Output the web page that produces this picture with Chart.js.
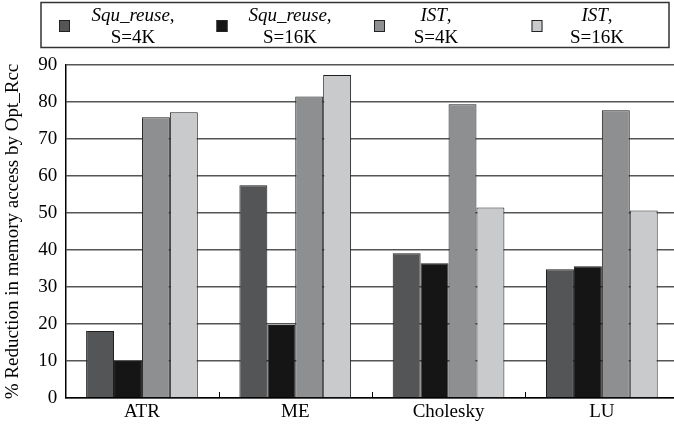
<!DOCTYPE html>
<html>
<head>
<meta charset="utf-8">
<script src="https://cdn.jsdelivr.net/npm/chart.js@4/dist/chart.umd.min.js"></script>
<style>
  html, body { margin: 0; padding: 0; background: #fff; overflow: hidden; }
  #wrap { width: 680px; height: 430px; position: relative; }
</style>
</head>
<body>
<div id="wrap"><canvas id="c"></canvas></div>
<script>
// Benchmarks on the x axis
const categories = ['ATR', 'ME', 'Cholesky', 'LU'];

// Series names (italic part) and buffer sizes (second legend line)
const seriesNames = ['Squ_reuse', 'Squ_reuse', 'IST', 'IST'];
const seriesSizes = ['S=4K', 'S=16K', 'S=4K', 'S=16K'];

// % reduction in memory access by Opt_Rcc
const squReuse4K  = [18.1, 57.5, 39.1, 34.8];
const squReuse16K = [10.0, 19.7, 36.4, 35.6];
const ist4K       = [75.9, 81.5, 79.4, 77.8];
const ist16K      = [77.2, 87.3, 51.5, 50.7];

// Y axis tick values
const yTicks = [0, 10, 20, 30, 40, 50, 60, 70, 80, 90];

const seriesValues = [squReuse4K, squReuse16K, ist4K, ist16K];
const fills = ['#545556', '#151515', '#8e8f90', '#c9cacb'];

const FONT = '"Liberation Serif", "Times New Roman", serif';

// Boxed two-line legend across the top
const topLegend = {
  id: 'topLegend',
  afterDraw(chart) {
    const ctx = chart.ctx;
    ctx.save();
    ctx.strokeStyle = '#333';
    ctx.lineWidth = 1.5;
    ctx.strokeRect(41, 2.5, 628, 45);
    const squareX = [59, 216.5, 374, 531.5];
    const textX = [133, 290, 436, 597];
    chart.data.datasets.forEach((ds, i) => {
      ctx.fillStyle = ds.backgroundColor;
      ctx.fillRect(squareX[i], 20, 11, 12);
      ctx.strokeStyle = '#222';
      ctx.lineWidth = 1;
      ctx.strokeRect(squareX[i] + 0.5, 20.5, 10, 11);
      ctx.fillStyle = '#000';
      ctx.textBaseline = 'alphabetic';
      // first line: italic name followed by an upright comma
      ctx.font = 'italic 19px ' + FONT;
      const nameW = ctx.measureText(seriesNames[i]).width;
      ctx.font = '19px ' + FONT;
      const commaW = ctx.measureText(',').width;
      const left = textX[i] - (nameW + commaW) / 2;
      ctx.textAlign = 'left';
      ctx.font = 'italic 19px ' + FONT;
      ctx.fillText(seriesNames[i], left, 20.5);
      ctx.font = '19px ' + FONT;
      ctx.fillText(',', left + nameW, 20.5);
      ctx.textAlign = 'center';
      ctx.fillText(seriesSizes[i], textX[i], 42.5);
    });
    ctx.restore();
  }
};

// Short upward tick marks at the category boundaries on the x axis
const xBoundaryTicks = {
  id: 'xBoundaryTicks',
  afterDatasetsDraw(chart) {
    const x = chart.scales.x;
    const ctx = chart.ctx;
    const step = x.getPixelForValue(1) - x.getPixelForValue(0);
    ctx.save();
    ctx.strokeStyle = '#000';
    ctx.lineWidth = 1;
    for (let i = 0; i <= categories.length; i++) {
      const px = Math.round(x.getPixelForValue(0) - step / 2 + i * step) + 0.5;
      ctx.beginPath();
      ctx.moveTo(px, chart.chartArea.bottom);
      ctx.lineTo(px, chart.chartArea.bottom - 6);
      ctx.stroke();
    }
    ctx.restore();
  }
};

new Chart(document.getElementById('c'), {
  type: 'bar',
  data: {
    labels: categories,
    datasets: seriesValues.map((vals, i) => ({
      label: seriesNames[i] + ', ' + seriesSizes[i],
      data: vals,
      backgroundColor: fills[i],
      borderColor: '#1e1e1e',
      borderWidth: 1
    }))
  },
  options: {
    responsive: true,
    maintainAspectRatio: false,
    animation: false,
    layout: { padding: { top: 65, right: 1.5, left: 0, bottom: 0 } },
    plugins: { legend: { display: false }, tooltip: { enabled: false } },
    datasets: { bar: { categoryPercentage: 0.7286, barPercentage: 1.0 } },
    scales: {
      x: {
        grid: { display: false, drawTicks: false },
        border: { display: true, color: '#000', width: 1.5 },
        ticks: { color: '#000', font: { family: FONT, size: 19 }, padding: 3, maxRotation: 0 },
        afterFit(s) { s.height = 32; }
      },
      y: {
        min: 0,
        max: 90,
        afterBuildTicks(s) { s.ticks = yTicks.map(v => ({ value: v })); },
        grid: { color: '#555', lineWidth: 1.5, drawTicks: false },
        border: { display: true, color: '#000', width: 1.5 },
        ticks: { color: '#000', font: { family: FONT, size: 19 }, padding: 8 },
        title: {
          display: true,
          text: '% Reduction in memory access by Opt_Rcc',
          color: '#000',
          font: { family: FONT, size: 19 },
          padding: { top: 2, bottom: 0 }
        },
        afterFit(s) { s.width = 65.3; }
      }
    }
  },
  plugins: [topLegend, xBoundaryTicks]
});
</script>
</body>
</html>
